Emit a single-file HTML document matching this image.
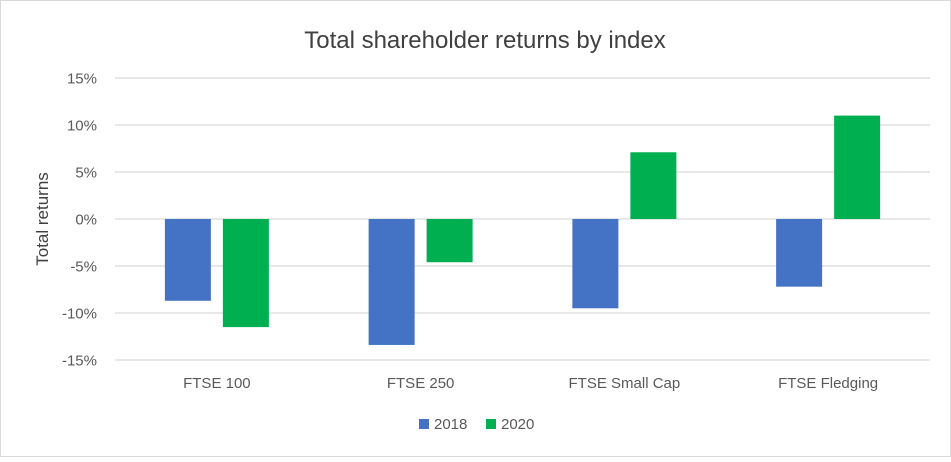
<!DOCTYPE html>
<html><head><meta charset="utf-8"><style>
body{margin:0;background:#fff}
svg text{font-family:"Liberation Sans",sans-serif}
</style></head><body>
<svg width="951" height="457">
<rect x="0.5" y="0.5" width="950" height="456" fill="#fff" stroke="#d9d9d9"/>
<text x="485" y="48" text-anchor="middle" font-size="24" fill="#404040">Total shareholder returns by index</text>
<text transform="translate(48,219) rotate(-90)" text-anchor="middle" font-size="17" fill="#404040">Total returns</text>
<g id="grid"></g><g id="bars"></g><g id="xl"></g>
<g>
<rect x="419" y="419" width="10" height="10" fill="#4472c4"/>
<text x="434" y="429" font-size="15" fill="#595959">2018</text>
<rect x="486" y="419" width="10" height="10" fill="#00b050"/>
<text x="501" y="429" font-size="15" fill="#595959">2020</text>
</g>
</svg>
<script>
const categories=["FTSE 100","FTSE 250","FTSE Small Cap","FTSE Fledging"];
const series2018=[-8.7,-13.4,-9.5,-7.2];
const series2020=[-11.5,-4.6,7.1,11.0];
const ticks=[15,10,5,0,-5,-10,-15];
const tickLabels=["15%","10%","5%","0%","-5%","-10%","-15%"];
const NS="http://www.w3.org/2000/svg";
const x0=115,x1=930,yTop=78,yBot=360,vMax=15,vMin=-15;
const y=v=>yTop+(vMax-v)/(vMax-vMin)*(yBot-yTop);
const cw=(x1-x0)/categories.length;
const cx=i=>x0+cw*(i+0.5);
function mk(t,a){const e=document.createElementNS(NS,t);for(const k in a)e.setAttribute(k,a[k]);return e;}
const grid=document.getElementById('grid');
ticks.forEach((t,i)=>{
 const l=mk('line',{x1:x0,x2:x1,y1:y(t),y2:y(t),stroke:'#d9d9d9','stroke-width':1.3});
 
 
 grid.appendChild(l);
 const tx=mk('text',{x:97,y:y(t)+5.5,'text-anchor':'end','font-size':15,fill:'#595959'});
 tx.textContent=tickLabels[i];
 
 
 grid.appendChild(tx);
});
const bars=document.getElementById('bars'),xl=document.getElementById('xl');
const bw=46,gap=12;
categories.forEach((c,i)=>{
 [[series2018[i],'#4472c4',-1,'2018'],[series2020[i],'#00b050',1,'2020']].forEach(([v,col,s,yr])=>{
  const bx=s<0?cx(i)-gap/2-bw:cx(i)+gap/2;
  const r=mk('rect',{x:bx,y:Math.min(y(v),y(0)),width:bw,height:Math.abs(y(v)-y(0)),fill:col});
  
  
  bars.appendChild(r);
 });
 const t=mk('text',{x:cx(i),y:388,'text-anchor':'middle','font-size':15,fill:'#595959'});
 t.textContent=c;
 
 
 xl.appendChild(t);
});
</script>
</body></html>
